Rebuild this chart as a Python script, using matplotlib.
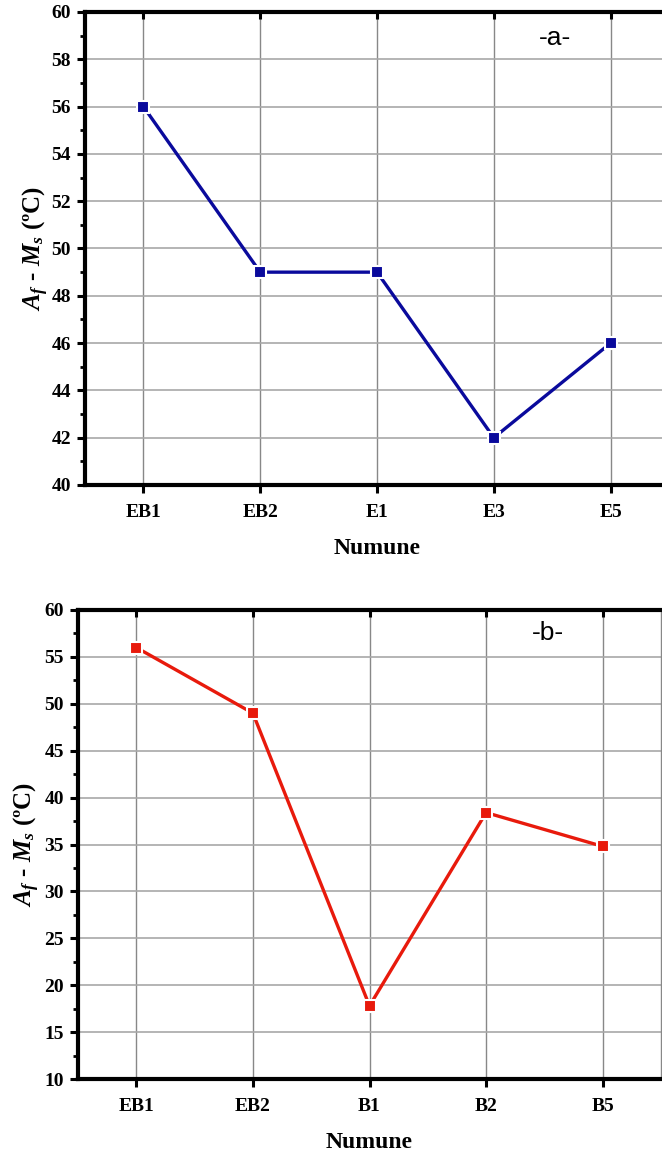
import numpy as np
import matplotlib.pyplot as plt
from matplotlib.ticker import MultipleLocator

# data
cats_a = ['EB1', 'EB2', 'E1', 'E3', 'E5']
vals_a = [56, 49, 49, 42, 46]
cats_b = ['EB1', 'EB2', 'B1', 'B2', 'B5']
vals_b = [56, 49, 17.8, 38.4, 34.8]

SERIF = ['Liberation Serif', 'DejaVu Serif']


def style_axis(ax, cats, ylim, major, minor, tag, tag_xy, ypad):
    x = np.arange(1, len(cats) + 1)
    ax.set_xlim(0.5, len(cats) + 0.5)
    ax.set_ylim(*ylim)
    ax.set_xticks(x)
    ax.set_xticklabels(cats)
    ax.yaxis.set_major_locator(MultipleLocator(major))
    ax.yaxis.set_minor_locator(MultipleLocator(minor))
    ax.xaxis.grid(True, color='#888888', linewidth=1.0)
    ax.yaxis.grid(True, color='#a8a8a8', linewidth=1.2)
    ax.set_axisbelow(True)
    ax.set_facecolor('none')

    for s in ['left', 'bottom', 'top']:
        ax.spines[s].set_linewidth(3.0)
        ax.spines[s].set_color('black')
    ax.spines['right'].set_linewidth(1.0)
    ax.spines['right'].set_color('#888888')

    ax.tick_params(axis='both', which='major', direction='out', length=6, width=2.2,
                   labelsize=14, pad=4)
    ax.tick_params(axis='y', which='minor', direction='out', length=3.5, width=2.0)
    ax.tick_params(axis='x', which='major', top=True, labeltop=False, pad=8)
    ax.tick_params(axis='x', which='minor', bottom=False)
    for lab in ax.get_xticklabels() + ax.get_yticklabels():
        lab.set_family(SERIF)
        lab.set_fontweight('bold')
    # top ticks point inward
    for t in ax.xaxis.get_major_ticks():
        t.tick2line.set_marker(3)
        t.tick2line.set_markersize(5)

    ax.set_xlabel('Numune', fontsize=17, fontweight='bold', family=SERIF, labelpad=12)
    ax.set_ylabel(r'$\mathbf{\mathit{A_f}}$ - $\mathbf{\mathit{M_s}}$ (ºC)', fontsize=18,
                  fontweight='bold', family=SERIF, labelpad=ypad)
    ax.text(tag_xy[0], tag_xy[1], tag, transform=ax.transAxes, ha='center', va='center',
            fontsize=19, family=['Liberation Sans', 'DejaVu Sans'])


plt.rcParams['mathtext.fontset'] = 'custom'
plt.rcParams['mathtext.it'] = 'Liberation Serif:italic:bold'
plt.rcParams['mathtext.bf'] = 'Liberation Serif:bold'
plt.rcParams['mathtext.rm'] = 'Liberation Serif'

fig = plt.figure(figsize=(6.62, 11.56), dpi=100)

ax1 = fig.add_axes([85 / 662, 1 - 485 / 1156, 584 / 662, 473 / 1156])
ax1.plot(np.arange(1, 6), vals_a, color='#0a0a9c', linewidth=2.4, marker='s', markersize=8,
         markerfacecolor='#0a0a9c', markeredgecolor='white', markeredgewidth=1.5)
style_axis(ax1, cats_a, (40, 60), 2, 1, '-a-', (0.805, 0.945), 0)

ax2 = fig.add_axes([78 / 662, 1 - 1079 / 1156, 583 / 662, 469 / 1156])
ax2.plot(np.arange(1, 6), vals_b, color='#e81a0c', linewidth=2.4, marker='s', markersize=8,
         markerfacecolor='#e81a0c', markeredgecolor='white', markeredgewidth=1.5)
style_axis(ax2, cats_b, (10, 60), 5, 2.5, '-b-', (0.806, 0.95), 2)

fig.savefig('out.png', dpi=100)
